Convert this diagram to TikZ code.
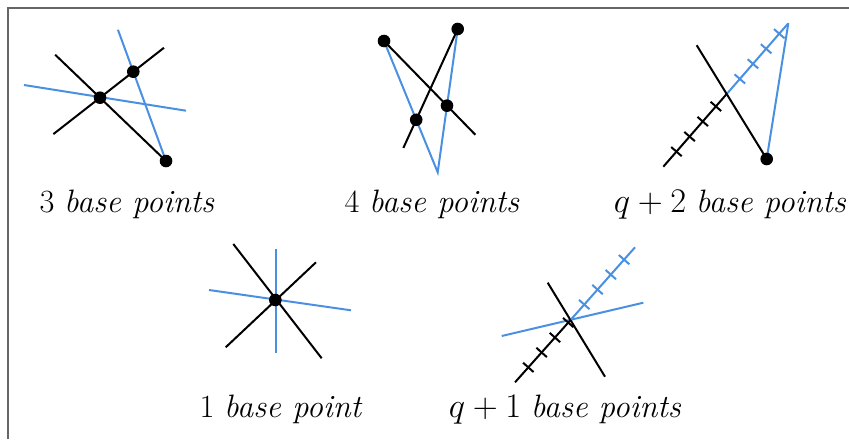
\documentclass[tikz,border=0pt]{standalone}
\usepackage{amsmath}
\usepackage{xcolor}
\usetikzlibrary{calc,decorations.markings}
\definecolor{lineblue}{RGB}{74,144,226}

\begin{document}
\begin{tikzpicture}[x=0.5pt, y=-0.5pt,
    bline/.style={line width=1pt, black},
    cline/.style={line width=1pt, lineblue},
    bpt/.style={circle, fill=black, inner sep=0pt, minimum size=6.3pt},
    lbl/.style={anchor=base, inner sep=0pt, font=\fontsize{16.2}{19}\selectfont},
    ticked/.style={postaction={decorate}, decoration={markings,
        mark=between positions 10pt and 40pt step 10pt with {\draw[line width=1pt] (0,-3.5pt) -- (0,3.5pt);}}}]
				\useasboundingbox (0,0) rectangle (849,439);
				% Frame
				\draw[black!60, line width=1pt] (8,439) -- (8,8) -- (849,8);

				% 3 base points
				\coordinate (a1) at (100,97.7);
				\coordinate (a2) at (133.3,71.7);
				\coordinate (a3) at (166,161);
				\coordinate (ah1) at (24,85);
				\coordinate (ah2) at (186,110.7);
				\draw[cline] (ah1) -- (ah2);
				\draw[cline] ($(a2)!-0.47!(a3)$) -- (a3);
				\draw[bline] ($(a1)!-1.4!(a2)$) -- ($(a1)!1.92!(a2)$);
				\draw[bline] ($(a1)!-0.68!(a3)$) -- (a3);
				\node[bpt] (pa1) at (a1) {};
				\node[bpt] (pa2) at (a2) {};
				\node[bpt] (pa3) at (a3) {};
				\node[lbl] (la) at (127,212) {3 \textit{base points}};

				% 4 base points
				\coordinate (b1) at (384,41);
				\coordinate (b2) at (457.7,29);
				\coordinate (bv) at (437.7,172.3);
				\coordinate (b3) at ($(b1)!0.6!(bv)$);
				\coordinate (b4) at ($(bv)!0.465!(b2)$);
				\draw[cline] (b1) -- (bv) -- (b2);
				\draw[bline] (b1) -- ($(b1)!1.45!(b4)$);
				\draw[bline] (b2) -- ($(b2)!1.31!(b3)$);
				\node[bpt] (pb1) at (b1) {};
				\node[bpt] (pb2) at (b2) {};
				\node[bpt] (pb3) at (b3) {};
				\node[bpt] (pb4) at (b4) {};
				\node[lbl] (lb) at (432,212) {4 \textit{base points}};

				% q+2 base points
				\coordinate (c1) at (766.7,159);
				\coordinate (cs) at (663.3,166.7);
				\coordinate (ct) at (788.3,23.3);
				\coordinate (cx) at ($(cs)!0.507!(ct)$);
				\draw[bline, ticked] (cs) -- (cx);
				\draw[cline, ticked] (cx) -- (ct);
				\draw[cline] (ct) -- (c1);
				\draw[bline] ($(c1)!1.75!(cx)$) -- (c1);
				\node[bpt] (pc1) at (c1) {};
				\node[lbl] (lc) at (730,212) {$q+2$ \textit{base points}};

				% 1 base point
				\coordinate (d0) at (275.3,300);
				\coordinate (dv1) at (276,249.3);
				\coordinate (dv2) at (276,352.7);
				\coordinate (dh1) at (209,290);
				\coordinate (dh2) at (351,310.3);
				\coordinate (dk1) at (233.3,244);
				\coordinate (dk2) at (321.7,358.3);
				\coordinate (dm1) at (225.7,347.3);
				\coordinate (dm2) at (316,262.3);
				\draw[cline] (dv1) -- (dv2);
				\draw[cline] (dh1) -- (dh2);
				\draw[bline] (dk1) -- (dk2);
				\draw[bline] (dm1) -- (dm2);
				\node[bpt] (pd0) at (d0) {};
				\node[lbl] (ld) at (281,417) {1 \textit{base point}};

				% q+1 base points
				\coordinate (es) at (515,382.3);
				\coordinate (ex) at (571,319.5);
				\coordinate (et) at (635,247.3);
				\coordinate (eh1) at (501.7,336);
				\coordinate (eh2) at (643.3,302.7);
				\coordinate (ek1) at (547.7,282.7);
				\coordinate (ek2) at (605,376.7);
				\draw[cline] (eh1) -- (eh2);
				\draw[bline] (ek1) -- (ek2);
				\draw[bline, ticked] (es) -- (ex);
				\draw[cline, ticked] (ex) -- (et);
				\node[lbl] (le) at (565,417) {$q+1$ \textit{base points}};
			\end{tikzpicture}
\end{document}
